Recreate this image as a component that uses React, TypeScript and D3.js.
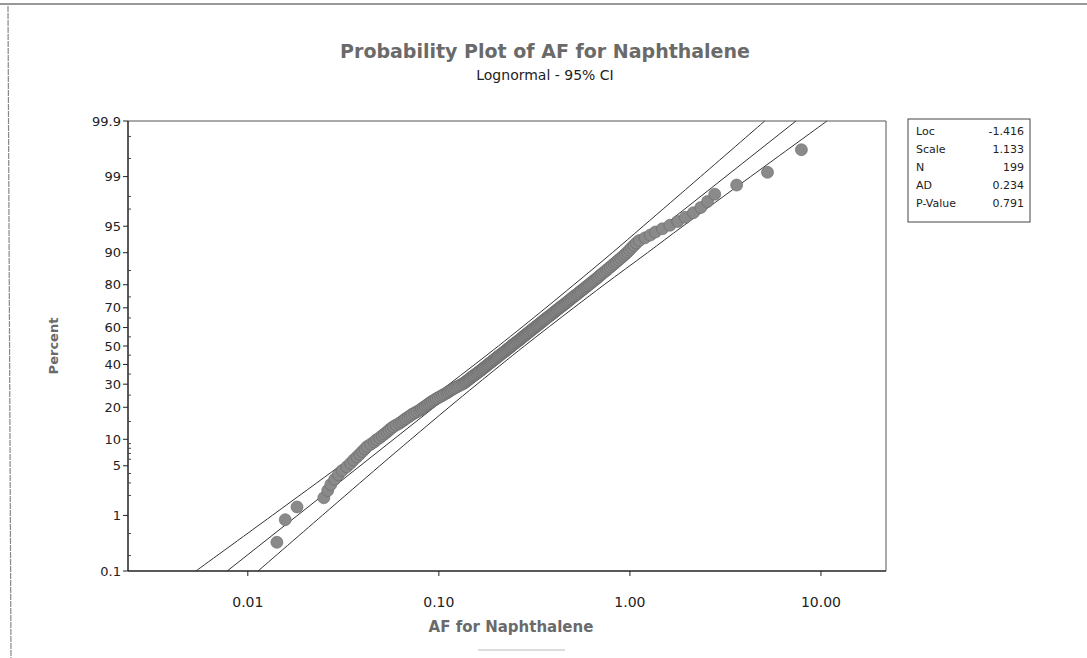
import * as d3 from "d3";

const W = 1087;
const H = 658;
const P = { left: 128, top: 121, right: 886, bottom: 571 };

const yTicks = [0.1, 1, 5, 10, 20, 30, 40, 50, 60, 70, 80, 90, 95, 99, 99.9];
const yTickLabels = ["0.1", "1", "5", "10", "20", "30", "40", "50", "60", "70", "80", "90", "95", "99", "99.9"];
const yMinorTicks = [0.2, 0.5, 2, 3, 4, 6, 7, 8, 9, 15, 25, 35, 45, 55, 65, 75, 85, 97, 98, 99.5, 99.8];
const xTicks = [0.01, 0.1, 1, 10];
const xTickLabels = ["0.01", "0.10", "1.00", "10.00"];

// fitted lognormal line (percent -> AF)
const fitPct = [0.1, 99.9];
const fitX = [0.0078, 7.4];

// 95% confidence bounds
const ciPct = [0.1, 1, 5, 10, 20, 30, 50, 70, 80, 90, 95, 99, 99.9];
const ciLower = [0.00535, 0.01343, 0.0304, 0.0468, 0.0785, 0.1132, 0.205, 0.363, 0.509, 0.809, 1.172, 2.344, 5.08];
const ciUpper = [0.01132, 0.02455, 0.0491, 0.0714, 0.113, 0.1585, 0.2805, 0.508, 0.733, 1.236, 1.892, 4.285, 10.76];

// AF for Naphthalene, sorted (N = 199)
const afValues = [
  0.0142, 0.0157, 0.0181, 0.025, 0.0262, 0.0272, 0.0285, 0.0298, 0.0312, 0.033,
  0.0345, 0.0358, 0.0372, 0.0385, 0.0398, 0.041, 0.0422, 0.044, 0.0458, 0.0472,
  0.049, 0.0505, 0.052, 0.0535, 0.0548, 0.0562, 0.0578, 0.0598, 0.062, 0.0638,
  0.0655, 0.067, 0.069, 0.0708, 0.0725, 0.0748, 0.077, 0.0795, 0.0812, 0.083,
  0.085, 0.0868, 0.0885, 0.0905, 0.0925, 0.0948, 0.097, 0.0995, 0.102, 0.1045,
  0.107, 0.11, 0.112, 0.1145, 0.1168, 0.1195, 0.1225, 0.1255, 0.1285, 0.132,
  0.135, 0.1372, 0.1395, 0.1418, 0.144, 0.1462, 0.1485, 0.151, 0.1535, 0.156,
  0.1585, 0.161, 0.1635, 0.166, 0.1685, 0.171, 0.1735, 0.176, 0.1785, 0.181,
  0.1838, 0.1865, 0.189, 0.1918, 0.1945, 0.1972, 0.2, 0.2028, 0.2055, 0.2085,
  0.2115, 0.2148, 0.218, 0.221, 0.224, 0.227, 0.2305, 0.234, 0.237, 0.24,
  0.243, 0.247, 0.25, 0.254, 0.258, 0.262, 0.265, 0.269, 0.272, 0.276,
  0.28, 0.284, 0.288, 0.292, 0.296, 0.3, 0.305, 0.309, 0.313, 0.318,
  0.323, 0.328, 0.332, 0.337, 0.342, 0.347, 0.352, 0.357, 0.362, 0.368,
  0.374, 0.38, 0.386, 0.392, 0.398, 0.404, 0.41, 0.417, 0.423, 0.43,
  0.437, 0.445, 0.452, 0.46, 0.467, 0.475, 0.483, 0.491, 0.499, 0.508,
  0.517, 0.527, 0.537, 0.546, 0.556, 0.567, 0.578, 0.589, 0.6, 0.612,
  0.624, 0.637, 0.65, 0.664, 0.678, 0.69, 0.705, 0.72, 0.738, 0.755,
  0.772, 0.79, 0.81, 0.83, 0.85, 0.872, 0.895, 0.92, 0.945, 0.97,
  0.995, 1.02, 1.05, 1.08, 1.12, 1.2, 1.28, 1.36, 1.48, 1.62,
  1.78, 1.95, 2.15, 2.35, 2.55, 2.78, 3.62, 5.25, 7.9,
];

const statLabels = ["Loc", "Scale", "N", "AD", "P-Value"];
const statValues = ["-1.416", "1.133", "199", "0.234", "0.791"];

// inverse standard normal CDF (Acklam) -- used for the probability axis
function qnorm(p: number) {
  const a = [-39.69683028665376, 220.9460984245205, -275.9285104469687, 138.357751867269, -30.66479806614716, 2.506628277459239];
  const b = [-54.47609879822406, 161.5858368580409, -155.6989798598866, 66.80131188771972, -13.28068155288572];
  const c = [-0.007784894002430293, -0.3223964580411365, -2.400758277161838, -2.549732539343734, 4.374664141464968, 2.938163982698783];
  const d = [0.007784695709041462, 0.3224671290700398, 2.445134137142996, 3.754408661907416];
  const lo = 0.02425;
  if (p < lo) {
    const q = Math.sqrt(-2 * Math.log(p));
    return (((((c[0] * q + c[1]) * q + c[2]) * q + c[3]) * q + c[4]) * q + c[5]) / ((((d[0] * q + d[1]) * q + d[2]) * q + d[3]) * q + 1);
  }
  if (p > 1 - lo) {
    const q = Math.sqrt(-2 * Math.log(1 - p));
    return -(((((c[0] * q + c[1]) * q + c[2]) * q + c[3]) * q + c[4]) * q + c[5]) / ((((d[0] * q + d[1]) * q + d[2]) * q + d[3]) * q + 1);
  }
  const q = p - 0.5;
  const r = q * q;
  return ((((((a[0] * r + a[1]) * r + a[2]) * r + a[3]) * r + a[4]) * r + a[5]) * q) / (((((b[0] * r + b[1]) * r + b[2]) * r + b[3]) * r + b[4]) * r + 1);
}

const FONT = "'DejaVu Sans', Verdana, sans-serif";

export default function App() {
  const x = d3.scaleLog().domain([0.00236, 21.9]).range([P.left, P.right]);
  const z = d3.scaleLinear().domain([qnorm(0.001), qnorm(0.999)]).range([P.bottom, P.top]);
  const yp = (pct: number) => z(qnorm(pct / 100));

  const n = afValues.length;
  // median-rank plotting positions
  const pts = afValues.map((v, i) => ({ x: x(v), y: yp(((i + 1 - 0.3) / (n + 0.4)) * 100) }));

  const mk = (xs: number[], ps: number[]) =>
    d3
      .line<number>()
      .x((v) => x(v))
      .y((_, i) => yp(ps[i]))
      .curve(d3.curveCatmullRom)(xs) ?? "";

  return (
    <svg
      width={W}
      height={H}
      style={{ position: "absolute", left: 0, top: 0, background: "#fff" }}
      fontFamily={FONT}
    >
      {/* scan edges */}
      <line x1={0} x2={W} y1={4} y2={4} stroke="#777" strokeWidth={1.5} />
      <line x1={8} x2={11} y1={6} y2={H} stroke="#888" strokeWidth={1.2} strokeDasharray="6 1" />
      <line x1={478} x2={565} y1={650} y2={650} stroke="#bbb" strokeWidth={1} />

      <text x={545} y={58} textAnchor="middle" fontSize={19} fontWeight="bold" fill="#6a6a6a">
        Probability Plot of AF for Naphthalene
      </text>
      <text x={545} y={80} textAnchor="middle" fontSize={14} fill="#222">
        Lognormal - 95% CI
      </text>

      {/* frame */}
      <line x1={P.left} x2={P.right} y1={P.top} y2={P.top} stroke="#555" strokeWidth={1} />
      <line x1={P.right} x2={P.right} y1={P.top} y2={P.bottom} stroke="#555" strokeWidth={1} />
      <line x1={P.left} x2={P.left} y1={P.top} y2={P.bottom} stroke="#222" strokeWidth={1.5} />
      <line x1={P.left} x2={P.right} y1={P.bottom} y2={P.bottom} stroke="#222" strokeWidth={1.5} />

      {yTicks.map((t, i) => (
        <g key={`y${t}`}>
          <line x1={P.left - 5} x2={P.left} y1={yp(t)} y2={yp(t)} stroke="#222" />
          <text x={P.left - 7} y={yp(t)} dy="0.35em" textAnchor="end" fontSize={13} fill="#222">
            {yTickLabels[i]}
          </text>
        </g>
      ))}
      {yMinorTicks.map((t) => (
        <line key={`ym${t}`} x1={P.left} x2={P.left + 3} y1={yp(t)} y2={yp(t)} stroke="#444" />
      ))}
      {xTicks.map((t, i) => (
        <g key={`x${t}`}>
          <line x1={x(t)} x2={x(t)} y1={P.bottom} y2={P.bottom + 5} stroke="#222" />
          <text x={x(t)} y={P.bottom + 36} textAnchor="middle" fontSize={14} fill="#222">
            {xTickLabels[i]}
          </text>
        </g>
      ))}

      <text x={511} y={632} textAnchor="middle" fontSize={15} fontWeight="bold" fill="#6a6a6a">
        AF for Naphthalene
      </text>
      <text
        transform={`translate(58, ${(P.top + P.bottom) / 2}) rotate(-90)`}
        textAnchor="middle"
        fontSize={13}
        fontWeight="bold"
        fill="#6a6a6a"
      >
        Percent
      </text>

      {/* fit + CI */}
      <path d={mk(ciLower, ciPct)} fill="none" stroke="#333" strokeWidth={1} />
      <path d={mk(ciUpper, ciPct)} fill="none" stroke="#333" strokeWidth={1} />
      <path d={mk(fitX, fitPct)} fill="none" stroke="#333" strokeWidth={1} />

      {pts.map((p, i) => (
        <circle key={i} cx={p.x} cy={p.y} r={6} fill="#8a8a8a" stroke="#666" strokeWidth={0.6} />
      ))}

      {/* stats box */}
      <rect x={908} y={119} width={122} height={103} fill="#fff" stroke="#444" strokeWidth={1} />
      {statLabels.map((s, i) => (
        <g key={s}>
          <text x={916} y={135 + i * 18} fontSize={11} fill="#222">
            {s}
          </text>
          <text x={1024} y={135 + i * 18} fontSize={11} textAnchor="end" fill="#222">
            {statValues[i]}
          </text>
        </g>
      ))}
    </svg>
  );
}
